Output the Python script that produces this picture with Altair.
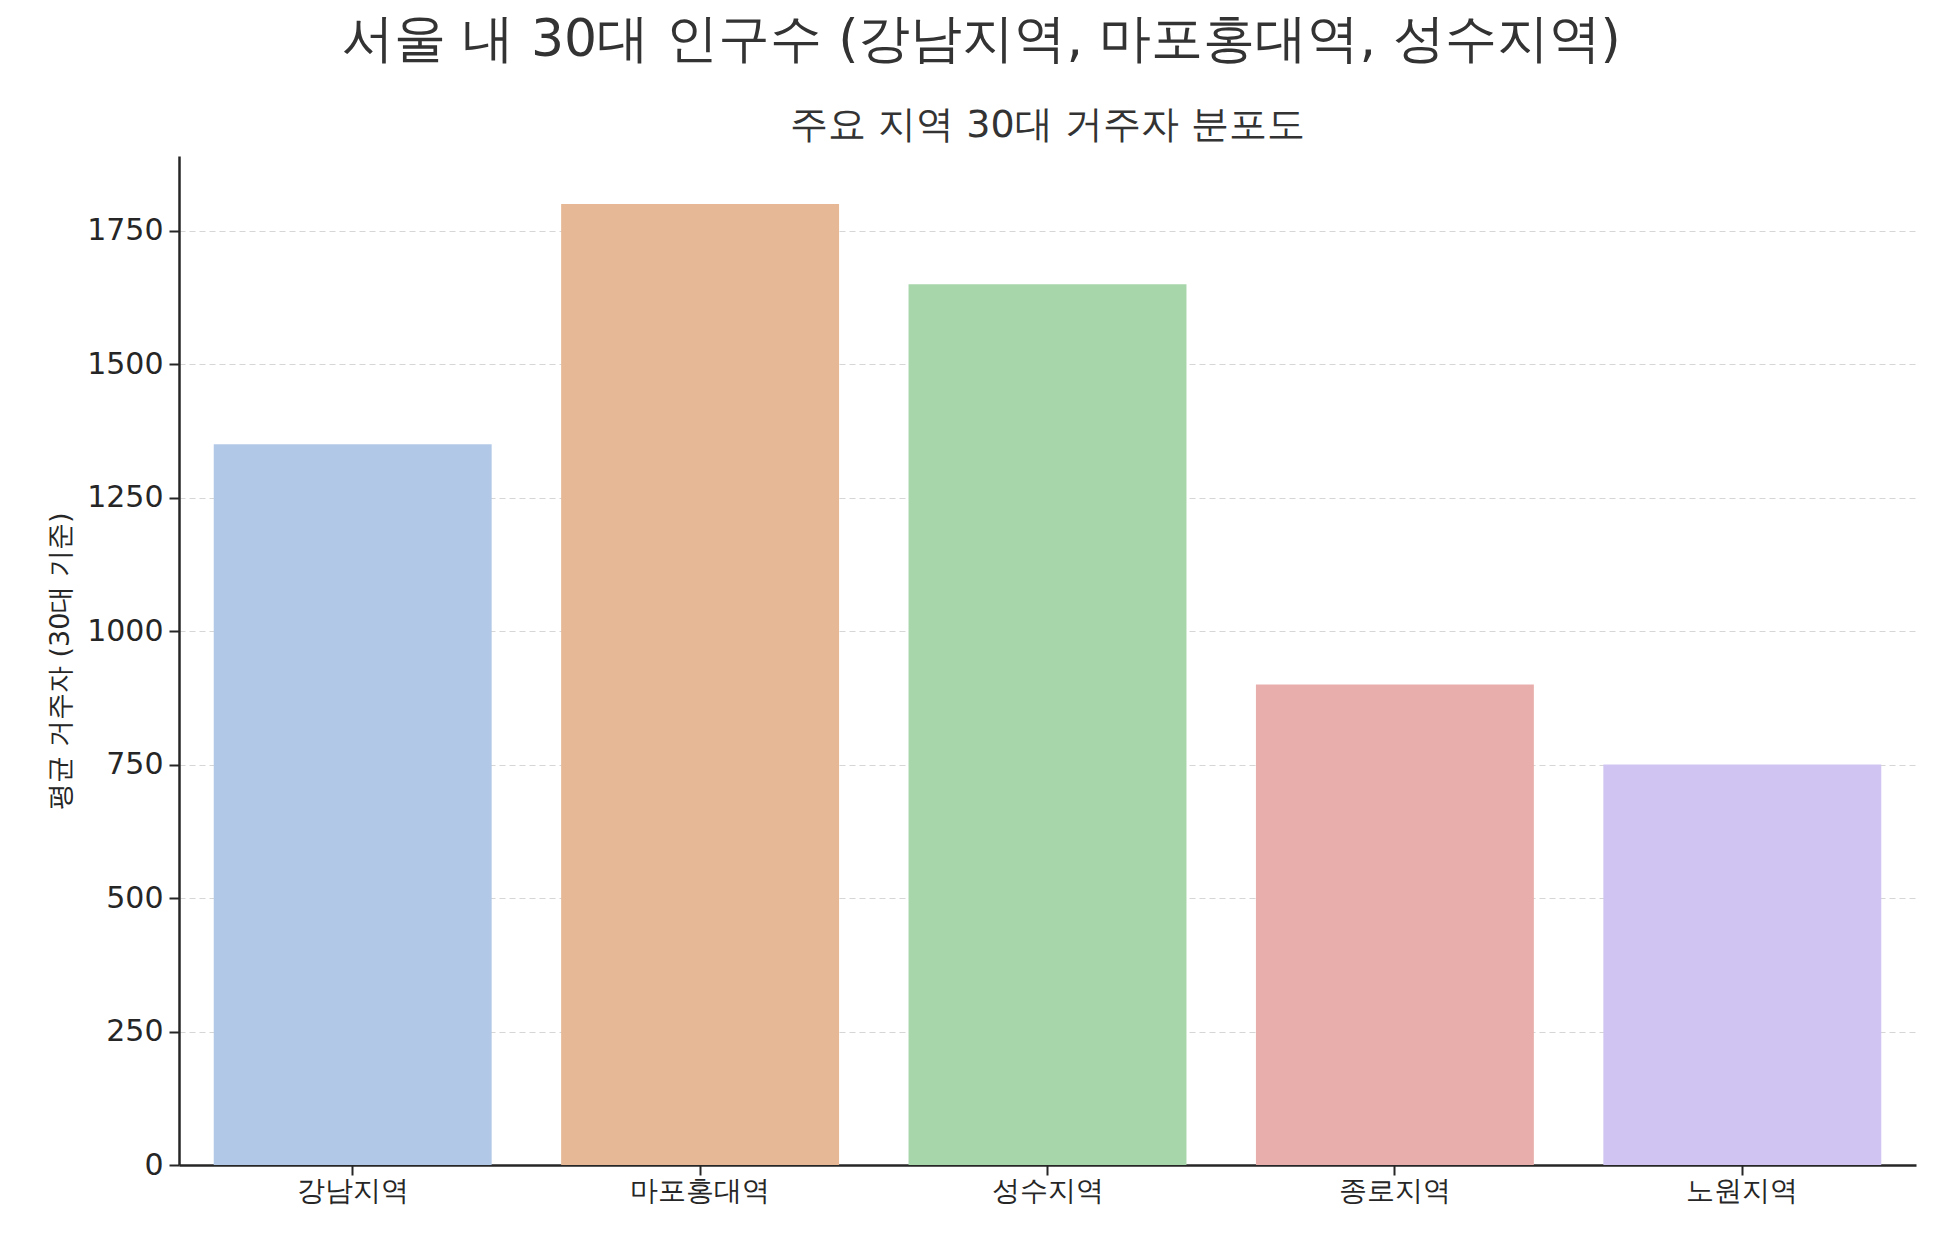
import altair as alt
import pandas as pd

main_title = "서울 내 30대 인구수 (강남지역, 마포홍대역, 성수지역)"
sub_title = "주요 지역 30대 거주자 분포도"
y_title = "평균 거주자 (30대 기준)"

categories = ["강남지역", "마포홍대역", "성수지역", "종로지역", "노원지역"]
values = [1350, 1800, 1650, 900, 750]
colors = ["#b2c8e7", "#e6b895", "#a7d6aa", "#e8aeab", "#d0c5f2"]
y_ticks = [0, 250, 500, 750, 1000, 1250, 1500, 1750]

df = pd.DataFrame({"category": categories, "value": values})

FONT = "DejaVu Sans"

bars = alt.Chart(df).mark_bar(opacity=1).encode(
    x=alt.X(
        "category:N",
        sort=categories,
        scale=alt.Scale(paddingInner=0.2, paddingOuter=0.1),
        axis=alt.Axis(
            title=None,
            labelAngle=0,
            labelFontSize=28,
            labelFont=FONT,
            labelColor="#262626",
            labelPadding=2,
            tickSize=10,
            tickWidth=2,
            tickColor="#262626",
            domainColor="#262626",
            domainWidth=2.5,
            grid=False,
        ),
    ),
    y=alt.Y(
        "value:Q",
        scale=alt.Scale(domain=[0, 1890], nice=False, zero=True),
        axis=alt.Axis(
            title=y_title,
            titleFont=FONT,
            titleFontSize=27,
            titleFontWeight="normal",
            titleColor="#262626",
            titlePadding=12,
            values=y_ticks,
            format="d",
            labelFontSize=30,
            labelFont=FONT,
            labelColor="#262626",
            labelPadding=6,
            tickSize=10,
            tickWidth=2,
            tickColor="#262626",
            domainColor="#262626",
            domainWidth=2.5,
            grid=True,
            gridColor="#d6d6d6",
            gridDash=[6, 4],
            gridWidth=1.2,
        ),
    ),
    color=alt.Color(
        "category:N",
        scale=alt.Scale(domain=categories, range=colors),
        legend=None,
    ),
).properties(
    width=1737,
    height=1009,
    title=alt.TitleParams(
        text=sub_title,
        font=FONT,
        fontSize=38,
        fontWeight="normal",
        color="#333333",
        anchor="middle",
        offset=11,
    ),
)

chart = alt.vconcat(bars).properties(
    title=alt.TitleParams(
        text=main_title,
        font=FONT,
        fontSize=52,
        fontWeight="normal",
        color="#333333",
        anchor="middle",
        offset=40,
    ),
    padding={"left": 38, "top": 6, "right": 5, "bottom": 5},
).configure_view(stroke=None).configure_axisX(domain=True)

chart.save("out.html", embed_options={"renderer": "svg", "actions": False})
